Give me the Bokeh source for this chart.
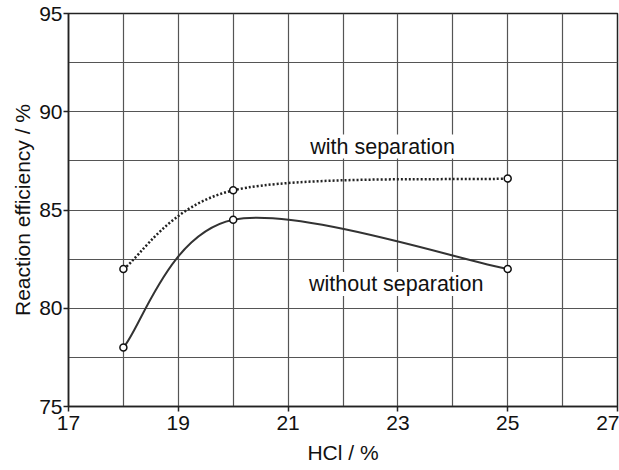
from bokeh.plotting import figure
from bokeh.models import FixedTicker, Label, Range1d
from bokeh.embed import file_html
from bokeh.resources import INLINE

hcl = [18, 20, 25]
with_sep = [82.0, 86.0, 86.6]
without_sep = [78.0, 84.5, 82.0]
x_ticks = [17, 19, 21, 23, 25, 27]
y_ticks = [75, 80, 85, 90, 95]
x_grid = list(range(17, 28))
y_grid = [75, 77.5, 80, 82.5, 85, 87.5, 90, 92.5, 95]

FONT = "Liberation Sans"

p = figure(width=619, height=470, output_backend="svg", toolbar_location=None,
           x_range=Range1d(17, 27), y_range=Range1d(75, 95),
           min_border_left=68, min_border_right=2, min_border_top=13, min_border_bottom=64)
p.outline_line_color = "#222222"
p.outline_line_width = 1.5
p.background_fill_color = "white"
p.border_fill_color = "white"

p.xaxis.ticker = FixedTicker(ticks=x_ticks)
p.yaxis.ticker = FixedTicker(ticks=y_ticks)
p.xgrid.ticker = FixedTicker(ticks=x_grid)
p.ygrid.ticker = FixedTicker(ticks=y_grid)
for g in (p.xgrid, p.ygrid):
    g.grid_line_color = "#555555"
    g.grid_line_width = 1.2
    g.grid_line_alpha = 1.0

for ax in (p.xaxis, p.yaxis):
    ax.axis_line_color = "#222222"
    ax.axis_line_width = 1.5
    ax.major_tick_line_color = "#222222"
    ax.major_tick_line_width = 1.5
    ax.major_tick_in = 0
    ax.major_tick_out = 5
    ax.minor_tick_line_color = None
    ax.major_label_text_font = FONT
    ax.major_label_text_font_size = "21px"
    ax.major_label_text_color = "#111111"
    ax.axis_label_text_font = FONT
    ax.axis_label_text_font_size = "21px"
    ax.axis_label_text_font_style = "normal"
    ax.axis_label_text_color = "#111111"

p.xaxis.axis_label = "HCl / %"
p.yaxis.axis_label = "Reaction efficiency / %"
p.xaxis.major_label_standoff = 4
p.yaxis.major_label_standoff = 1
p.xaxis.axis_label_standoff = 8
p.yaxis.axis_label_standoff = 2


def bezier_segments(xs, ys):
    n = len(xs)
    segs = {"x0": [], "y0": [], "x1": [], "y1": [], "cx0": [], "cy0": [], "cx1": [], "cy1": []}
    for i in range(n - 1):
        im1 = max(i - 1, 0)
        ip2 = min(i + 2, n - 1)
        segs["x0"].append(xs[i]); segs["y0"].append(ys[i])
        segs["x1"].append(xs[i + 1]); segs["y1"].append(ys[i + 1])
        segs["cx0"].append(xs[i] + (xs[i + 1] - xs[im1]) / 6)
        segs["cy0"].append(ys[i] + (ys[i + 1] - ys[im1]) / 6)
        segs["cx1"].append(xs[i + 1] - (xs[ip2] - xs[i]) / 6)
        segs["cy1"].append(ys[i + 1] - (ys[ip2] - ys[i]) / 6)
    return segs


s1 = bezier_segments(hcl, with_sep)
p.bezier(x0=s1["x0"], y0=s1["y0"], x1=s1["x1"], y1=s1["y1"], cx0=s1["cx0"], cy0=s1["cy0"],
         cx1=s1["cx1"], cy1=s1["cy1"], line_color="#222222", line_width=2.5, line_dash="2 2")
s2 = bezier_segments(hcl, without_sep)
p.bezier(x0=s2["x0"], y0=s2["y0"], x1=s2["x1"], y1=s2["y1"], cx0=s2["cx0"], cy0=s2["cy0"],
         cx1=s2["cx1"], cy1=s2["cy1"], line_color="#333333", line_width=2)

p.scatter(hcl, with_sep, size=7, fill_color="white", line_color="#111111", line_width=1.5)
p.scatter(hcl, without_sep, size=7, fill_color="white", line_color="#111111", line_width=1.5)

p.add_layout(Label(x=22.72, y=88.23, text="with separation", text_align="center",
                   text_baseline="middle", text_font=FONT, text_font_size="21.5px",
                   text_color="#111111", background_fill_color="white",
                   background_fill_alpha=1.0))
p.add_layout(Label(x=22.97, y=81.23, text="without separation", text_align="center",
                   text_baseline="middle", text_font=FONT, text_font_size="21.5px",
                   text_color="#111111", background_fill_color="white",
                   background_fill_alpha=1.0))

open("out.html", "w").write(file_html(p, INLINE))
